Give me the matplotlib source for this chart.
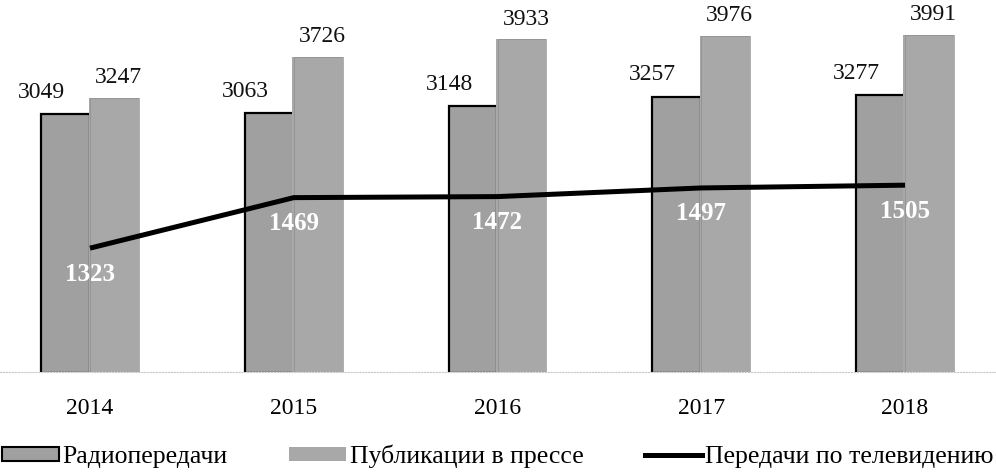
import matplotlib
matplotlib.use("Agg")
import matplotlib.pyplot as plt
from matplotlib.patches import Patch
from matplotlib.lines import Line2D
import numpy as np

plt.rcParams['font.family'] = ['Liberation Serif', 'DejaVu Serif']

years = ["2014", "2015", "2016", "2017", "2018"]
radio = [3049, 3063, 3148, 3257, 3277]
press = [3247, 3726, 3933, 3976, 3991]
tv = [1323, 1469, 1472, 1497, 1505]

labels = ["Радиопередачи", "Публикации в прессе", "Передачи по телевидению"]
c_radio = "#a0a0a0"
c_press = "#a8a8a8"

W, H = 996, 476
fig = plt.figure(figsize=(W / 100, H / 100), dpi=100)
ax_bottom_px = 372
ax_top_px = 7
ax = fig.add_axes([0, (H - ax_bottom_px) / H, 1, (ax_bottom_px - ax_top_px) / H])

x = np.arange(len(years))
w = 0.24
first_px, step_px = 90, 203.75
ov = 1.5 / step_px  # press bar overlaps the radio bar's right outline
ax.set_xlim(-first_px / step_px, (W - first_px) / step_px)
ax.set_ylim(15, 4315)

ax.bar(x - w / 2, radio, width=w, color=c_radio, edgecolor="black", linewidth=1.6, zorder=2)
ax.bar(x + w / 2 - ov / 2, press, width=w + ov, color=c_press, edgecolor="none", zorder=3)
# faint separator line between the two bars of each pair
ax.bar(x + w / 2, press, width=w, color="none", edgecolor="#8e8e8e", linewidth=0.5, zorder=3.1)

for xi, v in zip(x, radio):
    ax.annotate(str(v), (xi - w / 2, v), xytext=(-24, 22), textcoords="offset pixels",
                ha="center", va="center", fontsize=17, color="#111111")
for xi, v in zip(x, press):
    ax.annotate(str(v), (xi + w / 2, v), xytext=(4, 20), textcoords="offset pixels",
                ha="center", va="center", fontsize=17, color="#111111")

ax.set_xticks(x)
ax.set_xticklabels(years, fontsize=17)
ax.tick_params(axis="x", length=0, pad=19)
ax.set_yticks([])
for s in ["top", "left", "right"]:
    ax.spines[s].set_visible(False)
ax.spines["bottom"].set_color("#c8c8c8")
ax.spines["bottom"].set_linestyle(":")
ax.patch.set_visible(False)

ax2 = ax.twinx()
ax2.set_ylim(965, 2020)
ax2.plot(x, tv, color="black", linewidth=3.6, solid_capstyle="butt", zorder=5)
for xi, v in zip(x, tv):
    ax2.annotate(str(v), (xi, v), xytext=(0, -26), textcoords="offset pixels",
                 ha="center", va="center", fontsize=18, fontweight="bold", color="white")
ax2.axis("off")

handles = [
    Patch(facecolor=c_radio, edgecolor="black", linewidth=1.5),
    Patch(facecolor=c_press, edgecolor="none"),
    Line2D([0], [0], color="black", linewidth=3.6),
]
fig.legend(handles, labels, loc="center", bbox_to_anchor=(0.5, 1 - 456 / H), ncol=3,
           frameon=False, fontsize=18.5, handlelength=2.2, handleheight=0.47,
           handletextpad=0.15, columnspacing=2.4, borderaxespad=0, borderpad=0)

fig.savefig("out.png", dpi=100)
